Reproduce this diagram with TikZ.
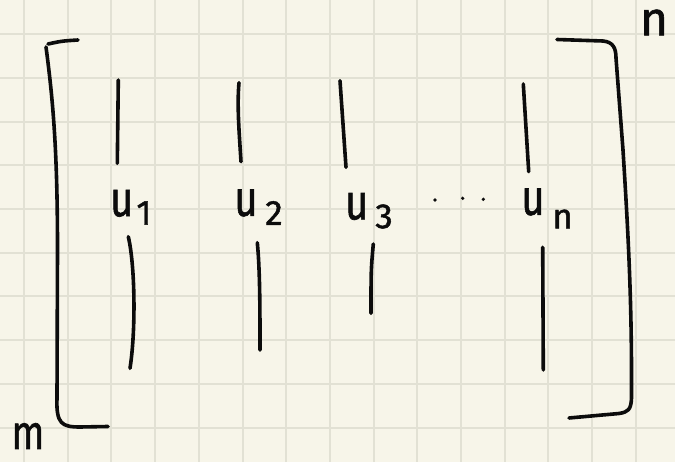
\documentclass[tikz,border=0pt]{standalone}
\usepackage{fontspec}
\newfontfamily\hand{Fira Sans}[FakeBold=1.3]
\definecolor{paper}{RGB}{247,245,233}
\definecolor{gridc}{RGB}{226,225,212}
\definecolor{ink}{RGB}{12,12,12}
\begin{document}
\begin{tikzpicture}[x=1pt,y=-1pt,
  gridline/.style={draw=gridc,line width=2pt},
  pen/.style={draw=ink,line width=3.6pt,line cap=round,line join=round},
  big/.style={inner sep=0pt,text=ink,font=\hand\fontsize{50}{50}\selectfont},
  sub/.style={inner sep=0pt,text=ink,font=\hand\fontsize{35}{35}\selectfont},
  dot/.style={circle,fill=ink,inner sep=0pt,minimum size=3.6pt}]
\useasboundingbox (0,0) rectangle (675,462);
\fill[paper] (0,0) rectangle (675,462);
% grid
\foreach \i in {0,...,14} \draw[gridline] ({24+43.7*\i},0) -- ({24+43.7*\i},462);
\foreach \j in {0,...,9} \draw[gridline] (0,{34.3+43.7*\j}) -- (675,{34.3+43.7*\j});
% left bracket
\draw[pen] (78,40) .. controls (62,41) .. (48,44);
\draw[pen] (46,47) .. controls (53,100) and (57.5,150) .. (57.5,250) -- (57,398) .. controls (56,424) and (62,427) .. (80,427) -- (108,426.5);
% right bracket
\draw[pen] (557,39.5) -- (603,41) .. controls (613,42) and (616,48) .. (616,58) -- (623,150) .. controls (628,230) and (632,300) .. (631.5,398) .. controls (631,410) and (628,412) .. (619,413.5) -- (569,418);
% column bars
\draw[pen] (118.3,80) -- (117.3,163.3);
\draw[pen] (128.3,236.7) .. controls (135,265) and (136,330) .. (130,368.3);
\draw[pen] (239,82.7) .. controls (237,105) and (239,130) .. (241,161.7);
\draw[pen] (257.3,242.7) .. controls (260,270) and (260,310) .. (260,350);
\draw[pen] (340,80.7) -- (346,167.3);
\draw[pen] (373.3,244) .. controls (371,270) .. (371,313.3);
\draw[pen] (523.3,84) -- (528.7,171.7);
\draw[pen] (542.7,247.3) -- (543.3,370);
% labels
\node[big] (u1) at (121.7,203.3) {\scalebox{0.8}[1]{u}};
\node[sub] (s1) at (144,213) {1};
\node[big] (u2) at (246,203) {\scalebox{0.8}[1]{u}};
\node[sub] (s2) at (274,213) {2};
\node[big] (u3) at (356.7,206.5) {\scalebox{0.8}[1]{u}};
\node[sub] (s3) at (384,216.5) {3};
\node[big] (un) at (533,202) {\scalebox{0.8}[1]{u}};
\node[sub] (sn) at (562.5,219) {n};
\node[dot] (d1) at (435,200) {};
\node[dot] (d2) at (462.7,198.3) {};
\node[dot] (d3) at (483.3,199.3) {};
\node[inner sep=0pt,text=ink,font=\hand\fontsize{48}{48}\selectfont] (m) at (28,436) {\scalebox{0.8}[1]{m}};
\node[inner sep=0pt,text=ink,font=\hand\fontsize{48}{48}\selectfont] (n) at (654,22.5) {n};
\end{tikzpicture}
\end{document}
